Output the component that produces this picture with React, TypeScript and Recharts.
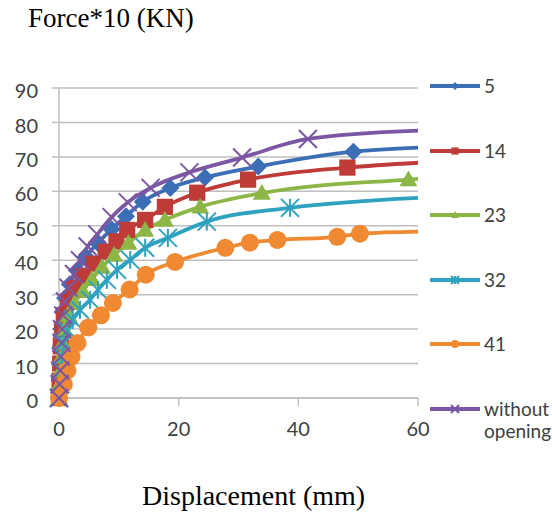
import { LineChart, Line, XAxis, YAxis, CartesianGrid, Legend } from 'recharts'

// displacement (mm) / force*10 (kN) per opening size
const X_5 = [0, 0.1, 0.2, 0.3, 0.4, 0.6, 1.0, 1.8, 3.0, 4.5, 6.5, 8.8, 11.2, 14.0, 18.6, 24.4, 33.3, 49.2, 60]
const Y_5 = [0, 5, 10, 15, 20, 25, 29, 33, 37, 41, 45, 49, 52.8, 57, 61, 64, 67.2, 71.5, 72.7]

const X_14 = [0, 0.1, 0.2, 0.3, 0.5, 0.8, 1.5, 2.6, 4.0, 5.8, 7.8, 9.6, 11.4, 14.4, 17.7, 23.1, 31.6, 48.2, 60]
const Y_14 = [0, 5, 10, 15, 20, 24, 28, 32, 35.5, 39, 42.5, 45.5, 48.8, 51.7, 55.5, 59.6, 63.4, 66.9, 68.3]

const X_23 = [0, 0.1, 0.3, 0.4, 0.6, 0.9, 1.6, 2.6, 4.0, 5.5, 7.2, 9.2, 11.6, 14.4, 17.7, 23.6, 33.9, 58.4, 60]
const Y_23 = [0, 4, 8, 12, 16, 20, 24, 27.5, 31, 34.5, 38, 41.5, 45, 48.8, 51.7, 55.5, 59.5, 63.4, 63.6]

const X_32 = [0, 0.2, 0.3, 0.5, 0.8, 1.4, 2.3, 3.5, 5.2, 6.5, 8.0, 9.7, 11.9, 14.4, 18.2, 24.7, 38.6, 60]
const Y_32 = [0, 4, 8, 12, 16, 19.5, 22.7, 25.6, 28.5, 31.4, 34.3, 37.2, 40.1, 43.6, 46.5, 51.2, 55.2, 58.1]

const X_41 = [0, 0.8, 1.4, 2.1, 3.1, 4.9, 7.0, 9.0, 11.8, 14.5, 19.4, 27.8, 31.9, 36.5, 46.5, 50.3, 60]
const Y_41 = [0, 4, 8, 12, 16, 20.5, 24, 27.6, 31.5, 35.8, 39.5, 43.6, 45.1, 45.9, 46.8, 47.7, 48.3]

const X_NONE = [0, 0.1, 0.2, 0.3, 0.4, 0.5, 0.7, 1.0, 1.6, 2.5, 3.5, 4.8, 6.4, 8.8, 11.5, 15.3, 21.8, 30.6, 41.6, 60]
const Y_NONE = [0, 4, 8, 12, 16, 20, 24, 28, 32, 36, 40, 44, 47.5, 52.5, 56.8, 61, 65.5, 69.8, 75.2, 77.6]

const SERIES_NAMES = ['5', '14', '23', '32', '41', 'without opening']
const X_TICKS = [0, 20, 40, 60]
const Y_TICKS = [0, 10, 20, 30, 40, 50, 60, 70, 80, 90]
const X_MAX = 60

const SERIES_XY = [
  [X_5, Y_5],
  [X_14, Y_14],
  [X_23, Y_23],
  [X_32, Y_32],
  [X_41, Y_41],
  [X_NONE, Y_NONE],
]

const COLORS = ['#3C6EB5', '#BE3B37', '#8CB646', '#2FA2C0', '#EF8A33', '#7A56A3']
const MARKERS = ['diamond', 'square', 'triangle', 'asterisk', 'circle', 'cross']

const GRID = '#BFBFBF'
const TICK_FONT = 'Lato, "Open Sans", sans-serif'
const SERIF = '"Liberation Serif", "Times New Roman", serif'

function Marker({ kind, cx, cy, color, size }: { kind: string; cx: number; cy: number; color: string; size: number }) {
  const h = size / 2
  switch (kind) {
    case 'diamond':
      return <polygon points={`${cx},${cy - h} ${cx + h},${cy} ${cx},${cy + h} ${cx - h},${cy}`} fill={color} />
    case 'square':
      return <rect x={cx - h * 0.9} y={cy - h * 0.9} width={size * 0.9} height={size * 0.9} fill={color} />
    case 'triangle':
      return <polygon points={`${cx},${cy - h} ${cx + h},${cy + h * 0.75} ${cx - h},${cy + h * 0.75}`} fill={color} />
    case 'asterisk':
      return (
        <g stroke={color} strokeWidth={2}>
          <line x1={cx - h} y1={cy - h} x2={cx + h} y2={cy + h} />
          <line x1={cx - h} y1={cy + h} x2={cx + h} y2={cy - h} />
          <line x1={cx} y1={cy - h} x2={cx} y2={cy + h} />
        </g>
      )
    case 'circle':
      return <circle cx={cx} cy={cy} r={h} fill={color} />
    default:
      return (
        <g stroke={color} strokeWidth={2}>
          <line x1={cx - h} y1={cy - h} x2={cx + h} y2={cy + h} />
          <line x1={cx - h} y1={cy + h} x2={cx + h} y2={cy - h} />
        </g>
      )
  }
}

function LegendBox() {
  return (
    <div style={{ position: 'relative', width: 122, height: 370 }}>
      {SERIES_NAMES.map((name, i) => (
        <div key={name} style={{ position: 'absolute', left: 0, top: i * 64.5, display: 'flex', alignItems: 'flex-start' }}>
          <svg width={50} height={22} style={{ flex: 'none' }}>
            <line x1={0} y1={11} x2={50} y2={11} stroke={COLORS[i]} strokeWidth={4} />
            <Marker kind={MARKERS[i]} cx={25} cy={11} color={COLORS[i]} size={8} />
          </svg>
          <span style={{ marginLeft: 4, width: 70, fontFamily: TICK_FONT, fontSize: 19, lineHeight: '22px', color: '#404040' }}>
            {name}
          </span>
        </div>
      ))}
    </div>
  )
}

export default function App() {
  return (
    <div style={{ position: 'absolute', left: 0, top: 0, width: 552, height: 516, background: '#fff' }}>
      <div style={{ position: 'absolute', left: 28, top: 5, fontFamily: SERIF, fontSize: 27, lineHeight: '27px', color: '#000', whiteSpace: 'nowrap' }}>
        Force*10 (KN)
      </div>
      <LineChart width={552} height={516} margin={{ top: 88, right: 134, bottom: 88, left: 0 }}>
        <CartesianGrid horizontal vertical={false} stroke={GRID} strokeWidth={1.5} />
        <XAxis
          type="number"
          dataKey="x"
          domain={[0, X_MAX]}
          ticks={X_TICKS}
          interval={0}
          height={30}
          tickSize={8}
          tickMargin={16}
          axisLine={{ stroke: GRID, strokeWidth: 1.5 }}
          tickLine={{ stroke: GRID, strokeWidth: 1.5 }}
          tick={{ fontFamily: TICK_FONT, fontSize: 20, fill: '#404040' }}
        />
        <YAxis
          type="number"
          domain={[0, 90]}
          ticks={Y_TICKS}
          interval={0}
          width={59}
          tickSize={7}
          tickMargin={14}
          axisLine={{ stroke: GRID, strokeWidth: 1.5 }}
          tickLine={{ stroke: GRID, strokeWidth: 1.5 }}
          tick={{ fontFamily: TICK_FONT, fontSize: 20, fill: '#404040', dy: 3 }}
        />
        <Legend
          layout="vertical"
          align="center"
          verticalAlign="middle"
          wrapperStyle={{ position: 'absolute', left: 430, top: 75, width: 122 }}
          content={() => <LegendBox />}
        />
        {SERIES_NAMES.map((name, i) => {
          const [xs, ys] = SERIES_XY[i]
          const data = xs.map((x, j) => ({ x, y: ys[j] }))
          return (
            <Line
              key={name}
              name={name}
              data={data}
              dataKey="y"
              type="monotone"
              stroke={COLORS[i]}
              strokeWidth={3.8}
              isAnimationActive={false}
              legendType="none"
              dot={(p: any) =>
                p.payload.x >= X_MAX ? (
                  <g key={`dot-${p.index}`} />
                ) : (
                  <Marker key={`dot-${p.index}`} kind={MARKERS[i]} cx={p.cx} cy={p.cy} color={COLORS[i]} size={18} />
                )
              }
              activeDot={false}
            />
          )
        })}
      </LineChart>
      <div style={{ position: 'absolute', left: 142, top: 482, fontFamily: SERIF, fontSize: 28, lineHeight: '28px', color: '#000', whiteSpace: 'nowrap' }}>
        Displacement (mm)
      </div>
    </div>
  )
}
